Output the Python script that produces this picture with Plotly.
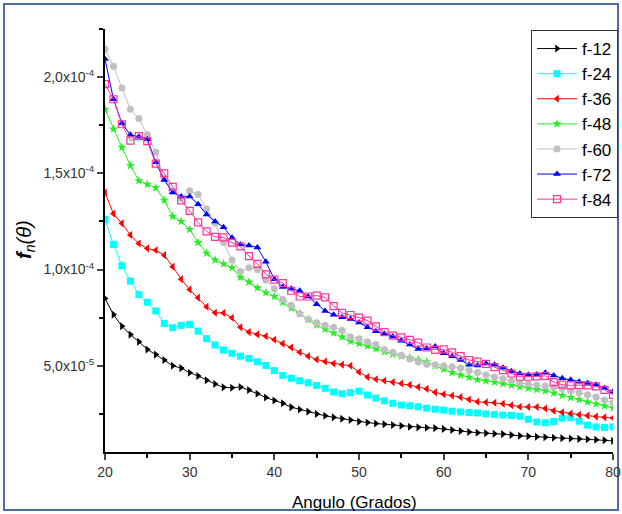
import plotly.graph_objects as go

angles = list(range(20, 81))

f12 = [8.5, 7.66, 7.05, 6.62, 6.25, 5.85, 5.58, 5.3, 5.0, 4.88, 4.64, 4.47, 4.25, 4.05, 3.88, 3.86, 3.9, 3.74, 3.55, 3.35,
       3.2, 3.05, 2.85, 2.73, 2.62, 2.5, 2.4, 2.32, 2.25, 2.18, 2.1, 2.05, 2.0, 1.96, 1.92, 1.88, 1.83, 1.8, 1.78, 1.76,
       1.72, 1.66, 1.61, 1.56, 1.52, 1.5, 1.47, 1.45, 1.4, 1.36, 1.34, 1.31, 1.29, 1.26, 1.24, 1.22, 1.2, 1.18, 1.16, 1.13, 1.1]
f24 = [12.6, 11.3, 10.2, 9.4, 8.7, 8.3, 7.85, 7.2, 6.98, 7.1, 7.15, 6.8, 6.41, 6.08, 5.82, 5.65, 5.5, 5.38, 5.21, 5.02,
       4.75, 4.5, 4.35, 4.22, 4.12, 3.98, 3.83, 3.64, 3.55, 3.6, 3.68, 3.48, 3.32, 3.18, 3.05, 2.96, 2.92, 2.87, 2.8, 2.74,
       2.7, 2.64, 2.6, 2.57, 2.55, 2.5, 2.47, 2.44, 2.42, 2.38, 2.22, 2.08, 2.04, 2.1, 2.28, 2.3, 2.12, 1.92, 1.82, 1.8, 1.82]
f36 = [14.0, 12.9, 12.4, 11.8, 11.35, 11.1, 11.0, 10.75, 10.15, 9.5, 8.96, 8.54, 8.07, 7.76, 7.74, 7.5, 7.0, 6.75, 6.63, 6.54,
       6.35, 6.15, 5.95, 5.7, 5.5, 5.33, 5.22, 5.12, 5.06, 5.0, 4.68, 4.42, 4.3, 4.22, 4.15, 4.08, 4.01, 3.9, 3.8, 3.62,
       3.52, 3.45, 3.37, 3.25, 3.13, 3.1, 3.08, 3.03, 2.95, 2.87, 2.86, 2.86, 2.78, 2.66, 2.58, 2.52, 2.46, 2.41, 2.36, 2.32, 2.29]
f48 = [18.33, 17.3, 16.35, 15.4, 14.62, 14.43, 14.25, 13.6, 12.76, 12.5, 12.08, 11.4, 10.85, 10.5, 10.3, 10.1, 9.6, 9.35, 9.05, 8.8,
       8.6, 8.3, 8.0, 7.7, 7.4, 7.12, 6.9, 6.7, 6.5, 6.27, 6.15, 6.03, 5.88, 5.73, 5.6, 5.5, 5.42, 5.3, 5.2, 5.0,
       4.82, 4.65, 4.52, 4.4, 4.28, 4.22, 4.15, 4.07, 3.99, 3.91, 3.84, 3.77, 3.7, 3.58, 3.46, 3.35, 3.24, 3.12, 3.02, 2.92, 2.81]
f60 = [21.46, 20.57, 19.43, 18.33, 17.85, 17.0, 16.1, 14.75, 14.1, 13.7, 14.1, 13.9, 13.15, 12.4, 11.4, 10.5, 9.9, 10.1, 10.0, 9.45,
       9.0, 8.45, 8.15, 7.7, 7.42, 7.24, 7.1, 7.0, 6.85, 6.5, 6.4, 6.25, 6.1, 5.85, 5.7, 5.55, 5.35, 5.2, 5.08, 5.05,
       5.0, 4.95, 4.88, 4.75, 4.65, 4.52, 4.42, 4.33, 4.22, 4.11, 4.05, 4.0, 3.95, 3.89, 3.82, 3.7, 3.6, 3.5, 3.38, 3.22, 3.07]
f72 = [20.94, 18.85, 17.6, 17.0, 16.9, 16.77, 15.57, 14.65, 14.0, 13.8, 13.8, 13.4, 12.86, 12.5, 12.2, 11.65, 11.3, 11.25, 11.15, 10.4,
       9.5, 9.1, 9.0, 8.9, 8.6, 8.2, 7.85, 7.65, 7.52, 7.43, 7.25, 7.0, 6.8, 6.66, 6.52, 6.3, 6.1, 5.87, 5.9, 6.0,
       5.65, 5.5, 5.3, 5.05, 5.02, 5.12, 5.05, 4.9, 4.72, 4.6, 4.53, 4.55, 4.64, 4.5, 4.35, 4.27, 4.17, 4.1, 4.02, 3.85, 3.65]
f84 = [19.64, 18.85, 17.55, 16.7, 16.93, 16.67, 15.5, 15.0, 14.3, 13.6, 13.05, 12.45, 11.98, 11.7, 11.67, 11.4, 11.2, 10.7, 10.3, 9.75,
       9.48, 9.3, 8.9, 8.6, 8.6, 8.65, 8.55, 8.1, 7.75, 7.64, 7.5, 7.35, 7.05, 6.75, 6.57, 6.48, 6.35, 6.2, 5.95, 5.83,
       5.85, 5.7, 5.5, 5.3, 5.22, 5.1, 4.93, 4.77, 4.6, 4.43, 4.43, 4.45, 4.48, 4.15, 4.02, 3.98, 4.0, 3.98, 3.93, 3.75, 3.49]

series_names = ["f-12", "f-24", "f-36", "f-48", "f-60", "f-72", "f-84"]
series_vals = [f12, f24, f36, f48, f60, f72, f84]
series_colors = ["#000000", "#00FFFF", "#FF0000", "#22EE22", "#C0C0C0", "#0000FF", "#FF3399"]
series_symbols = ["triangle-right", "square", "triangle-left", "star", "circle", "triangle-up", "square-open"]
SCALE = 1e-5

ytick_vals = [5e-5, 1e-4, 1.5e-4, 2e-4]
ytick_text = ["5,0x10<sup>-5</sup>", "1,0x10<sup>-4</sup>", "1,5x10<sup>-4</sup>", "2,0x10<sup>-4</sup>"]
xtick_vals = [20, 30, 40, 50, 60, 70, 80]

fig = go.Figure()
for name, vals, col, sym in zip(series_names, series_vals, series_colors, series_symbols):
    fig.add_trace(go.Scatter(
        x=angles, y=[v * SCALE for v in vals], name=name, mode="lines+markers",
        line=dict(color=col, width=1),
        marker=dict(symbol=sym, color=col, size=7, line=dict(width=1.2 if sym == "square-open" else 0, color=col)),
    ))

L, R, T, B = 105, 9, 29, 62
W, H = 622, 514
pw, ph = W - L - R, H - T - B

def px(xp):
    return (xp - L) / pw

def py(yp):
    return (H - B - yp) / ph

fig.update_layout(
    width=W, height=H, autosize=False,
    margin=dict(l=L, r=R, t=T, b=B, autoexpand=False),
    paper_bgcolor="white", plot_bgcolor="white",
    showlegend=True,
    legend=dict(x=531 / W, y=1 - 30 / H, xref="container", yref="container", xanchor="left", yanchor="top",
                bgcolor="white", bordercolor="#333333", borderwidth=1,
                font=dict(family="Arial, Liberation Sans", size=17, color="#000"),
                itemwidth=40, tracegroupgap=0),
    xaxis=dict(range=[20, 80], tickvals=xtick_vals, ticks="outside", ticklen=6, tickwidth=2, automargin=False,
               showline=True, linecolor="black", linewidth=2, showgrid=False, zeroline=False,
               tickfont=dict(family="Arial, Liberation Sans", size=14, color="#333"),
               minor=dict(tickvals=[25, 35, 45, 55, 65, 75], ticks="outside", ticklen=4, tickwidth=2, tickcolor="black")),
    yaxis=dict(range=[5.2e-6, 2.25e-4], tickvals=ytick_vals, ticktext=ytick_text, ticks="outside", ticklen=6, tickwidth=2,
               automargin=False,
               showline=True, linecolor="black", linewidth=2, showgrid=False, zeroline=False,
               tickfont=dict(family="Arial, Liberation Sans", size=14, color="#333"),
               minor=dict(tickvals=[2.5e-5, 7.5e-5, 1.25e-4, 1.75e-4, 2.25e-4], ticks="outside", ticklen=4, tickwidth=2, tickcolor="black")),
    annotations=[
        dict(text="Angulo (Grados)", x=px(354), y=py(502), xref="paper", yref="paper", showarrow=False,
             xanchor="center", yanchor="middle",
             font=dict(family="Arial, Liberation Sans", size=17, color="#000")),
        dict(text="<b><i>f</i></b><sub><i>n</i></sub><i>(θ)</i>", x=px(25), y=py(240), xref="paper", yref="paper",
             showarrow=False, textangle=-90, xanchor="center", yanchor="middle",
             font=dict(family="Arial, Liberation Sans", size=20, color="#000")),
    ],
    shapes=[
        dict(type="rect", xref="paper", yref="paper", x0=px(4), x1=px(618), y0=py(510), y1=py(4),
             line=dict(color="#4A6FA5", width=2), fillcolor="rgba(0,0,0,0)", layer="below"),
        dict(type="rect", xref="paper", yref="paper", x0=px(534), x1=px(576), y0=py(59), y1=py(37),
             line=dict(color="#FF4444", width=1.2), fillcolor="rgba(0,0,0,0)"),
    ],
)

fig.write_html("out.html", config={"displayModeBar": False, "responsive": False},
               post_script="document.body.style.margin='0px';document.body.style.overflow='hidden';")
